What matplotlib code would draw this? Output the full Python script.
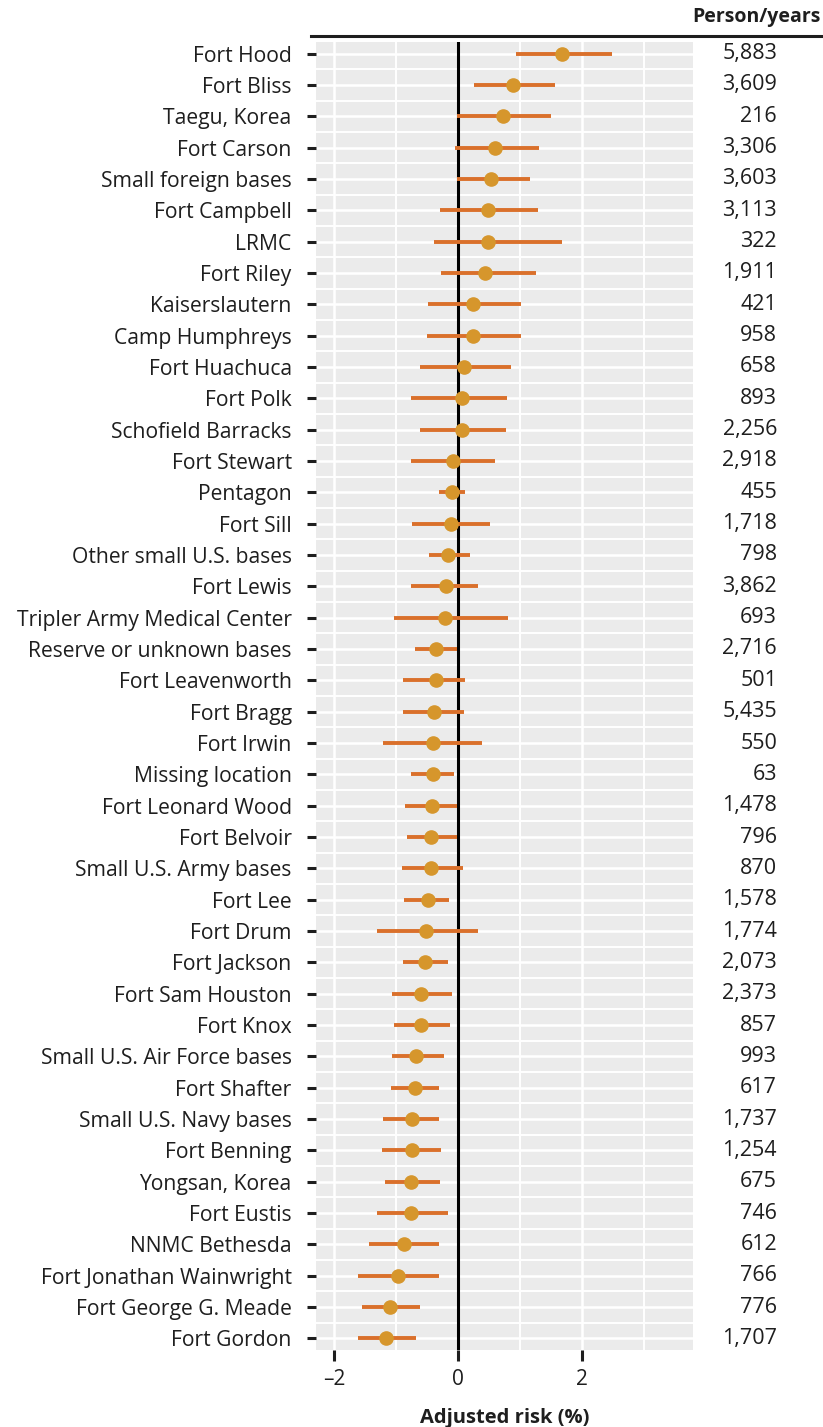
import numpy as np
import matplotlib.pyplot as plt

plt.rcParams['font.family'] = ['Open Sans', 'DejaVu Sans']

# data (top to bottom)
locations = [
    "Fort Hood", "Fort Bliss", "Taegu, Korea", "Fort Carson", "Small foreign bases",
    "Fort Campbell", "LRMC", "Fort Riley", "Kaiserslautern", "Camp Humphreys",
    "Fort Huachuca", "Fort Polk", "Schofield Barracks", "Fort Stewart", "Pentagon",
    "Fort Sill", "Other small U.S. bases", "Fort Lewis", "Tripler Army Medical Center",
    "Reserve or unknown bases", "Fort Leavenworth", "Fort Bragg", "Fort Irwin",
    "Missing location", "Fort Leonard Wood", "Fort Belvoir", "Small U.S. Army bases",
    "Fort Lee", "Fort Drum", "Fort Jackson", "Fort Sam Houston", "Fort Knox",
    "Small U.S. Air Force bases", "Fort Shafter", "Small U.S. Navy bases",
    "Fort Benning", "Yongsan, Korea", "Fort Eustis", "NNMC Bethesda",
    "Fort Jonathan Wainwright", "Fort George G. Meade", "Fort Gordon",
]
risk = [1.67, 0.89, 0.73, 0.60, 0.54, 0.49, 0.49, 0.44, 0.25, 0.24,
        0.09, 0.07, 0.07, -0.08, -0.10, -0.11, -0.16, -0.20, -0.21,
        -0.36, -0.36, -0.38, -0.41, -0.41, -0.42, -0.44, -0.44,
        -0.49, -0.51, -0.53, -0.59, -0.60, -0.67, -0.70, -0.74,
        -0.74, -0.75, -0.75, -0.87, -0.96, -1.09, -1.16]
lower = [0.93, 0.26, -0.02, -0.05, -0.02, -0.29, -0.38, -0.27, -0.48, -0.50,
         -0.61, -0.75, -0.62, -0.75, -0.30, -0.74, -0.47, -0.75, -1.03,
         -0.69, -0.89, -0.88, -1.21, -0.75, -0.86, -0.83, -0.91,
         -0.87, -1.31, -0.89, -1.06, -1.04, -1.06, -1.08, -1.21,
         -1.23, -1.18, -1.31, -1.43, -1.61, -1.55, -1.62]
upper = [2.48, 1.56, 1.50, 1.31, 1.16, 1.29, 1.67, 1.25, 1.01, 1.02,
         0.85, 0.79, 0.77, 0.60, 0.11, 0.52, 0.19, 0.33, 0.80,
         -0.02, 0.12, 0.09, 0.38, -0.07, -0.02, -0.02, 0.08,
         -0.14, 0.33, -0.16, -0.10, -0.13, -0.23, -0.31, -0.30,
         -0.27, -0.29, -0.16, -0.30, -0.31, -0.61, -0.67]
person_years = ["5,883", "3,609", "216", "3,306", "3,603", "3,113", "322", "1,911",
                "421", "958", "658", "893", "2,256", "2,918", "455", "1,718", "798",
                "3,862", "693", "2,716", "501", "5,435", "550", "63", "1,478", "796",
                "870", "1,578", "1,774", "2,073", "2,373", "857", "993", "617",
                "1,737", "1,254", "675", "746", "612", "766", "776", "1,707"]

W, H = 823, 1427
TXT = '#1e1e1e'
fig = plt.figure(figsize=(W / 100, H / 100), dpi=100)
ax = fig.add_axes([316 / W, 1 - 1350 / H, (693 - 316) / W, (1350 - 42) / H])

n = len(locations)
y = np.arange(1, n + 1)

ax.set_facecolor('#ebebeb')
ax.set_xlim(-2.29, 3.79)
ax.set_ylim(n + 0.37, 0.63)

# ggplot-like grid: majors at ticks, minors in between
ax.set_xticks([-2, 0, 2])
ax.set_xticks([-1, 1, 3], minor=True)
ax.set_yticks(y)
ax.set_yticks(y[:-1] + 0.5, minor=True)
ax.grid(which='major', color='white', linewidth=1.8)
ax.grid(which='minor', color='white', linewidth=1.4)
ax.set_axisbelow(True)
for s in ax.spines.values():
    s.set_visible(False)

ax.axvline(0, color='black', linewidth=2.2, zorder=2)

ax.hlines(y, lower, upper, color='#da702b', linewidth=2.8, zorder=3)
ax.plot(risk, y, 'o', color='#d6962c', markersize=9.5, zorder=4)

ax.set_yticklabels(locations, fontsize=15.2, color=TXT)
ax.set_xticklabels(['\u20132', '0', '2'], fontsize=15, color=TXT)
ax.tick_params(axis='y', which='major', length=6.5, width=2.2, pad=11, color=TXT)
ax.tick_params(axis='x', which='major', length=8, width=2.2, pad=6, color=TXT)
ax.tick_params(which='minor', length=0)

ax.set_xlabel('Adjusted risk (%)', fontsize=14.5, fontweight='bold', labelpad=12.5, color=TXT)

# person/years column, aligned with the rows
for yi, v in zip(y, person_years):
    fy = fig.transFigure.inverted().transform(ax.transData.transform((0, yi)))[1]
    fig.text(777 / W, fy, v, fontsize=15.5, ha='right', va='center', color=TXT)

fig.text(821 / W, 1 - 17 / H, 'Person/years', fontsize=14, fontweight='bold',
         ha='right', va='center', color=TXT)
fig.add_artist(plt.Line2D([311 / W, 1.0], [1 - 36 / H, 1 - 36 / H], color=TXT,
                          linewidth=2.2, transform=fig.transFigure))

fig.savefig('out.png', dpi=100)
